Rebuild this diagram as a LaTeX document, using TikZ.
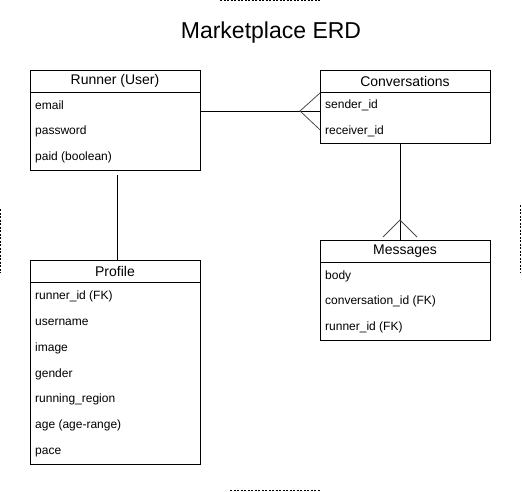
\documentclass[tikz,border=0pt]{standalone}
\usepackage{fontspec}
\setmainfont{Liberation Sans}
\begin{document}
\begin{tikzpicture}[x=1pt,y=-1pt,
  tbl/.style={draw=black,line width=0.8pt,anchor=north west,inner sep=0pt,minimum width=170pt},
  hdr/.style={font=\fontsize{14}{16}\selectfont,inner sep=0pt},
  fld/.style={font=\fontsize{12}{14}\selectfont,anchor=west,inner sep=0pt},
  sep/.style={draw=black,line width=0.8pt},
  conn/.style={draw=black,line width=0.8pt},
  crow/.style={draw=black!70,line width=0.8pt},
  pagemark/.style={draw=black,line width=1pt,dash pattern=on 2pt off 1.5pt}]
\useasboundingbox (0,0) rectangle (522,492);

% page marks
\draw[pagemark] (220,1) -- (320,1);
\draw[pagemark] (230,490) -- (320,490);
\draw[pagemark] (0.8,209) -- (0.8,273);
\draw[pagemark] (520.5,205) -- (520.5,273);

% title
\node[font=\fontsize{23}{27}\selectfont,inner sep=0pt] (title) at (271,33) {Marketplace ERD};

% Runner (User)
\node[tbl,minimum height=100pt] (runner) at (30,70) {};
\node[hdr] (runnerh) at (115,81) {Runner (User)};
\draw[sep] ([yshift=-22pt]runner.north west) -- ([yshift=-22pt]runner.north east);
\node[fld] (r1) at (35,105.5) {email};
\node[fld] (r2) at (35,131.5) {password};
\node[fld] (r3) at (35,157.5) {paid (boolean)};

% Conversations
\node[tbl,minimum height=73pt] (conv) at (320,70) {};
\node[hdr] (convh) at (405,81) {Conversations};
\draw[sep] ([yshift=-22pt]conv.north west) -- ([yshift=-22pt]conv.north east);
\node[fld] (c1) at (325,105.5) {sender\_id};
\node[fld] (c2) at (325,131.5) {receiver\_id};

% Messages
\node[tbl,minimum height=100pt] (msg) at (320,240) {};
\node[hdr] (msgh) at (405,251) {Messages};
\draw[sep] ([yshift=-22pt]msg.north west) -- ([yshift=-22pt]msg.north east);
\node[fld] (m1) at (325,276.5) {body};
\node[fld] (m2) at (325,301.5) {conversation\_id (FK)};
\node[fld] (m3) at (325,327.5) {runner\_id (FK)};

% Profile
\node[tbl,minimum height=204pt] (prof) at (30,260) {};
\node[hdr] (profh) at (115,271) {Profile};
\draw[sep] ([yshift=-22pt]prof.north west) -- ([yshift=-22pt]prof.north east);
\node[fld] (p1) at (35,296.5) {runner\_id (FK)};
\node[fld] (p2) at (35,322.5) {username};
\node[fld] (p3) at (35,348.5) {image};
\node[fld] (p4) at (35,374.5) {gender};
\node[fld] (p5) at (35,399.5) {running\_region};
\node[fld] (p6) at (35,425.5) {age (age-range)};
\node[fld] (p7) at (35,452.5) {pace};

% Runner -- Conversations (many)
\coordinate (cfa) at (300,111);
\draw[conn] (runner.east |- cfa) -- (conv.west |- cfa);
\draw[crow] ([yshift=-23pt]conv.north west) -- (cfa) -- ([yshift=14pt]conv.south west);

% Conversations -- Messages (many)
\coordinate (cfb) at (400,220);
\draw[conn] (conv.south -| cfb) -- (msg.north -| cfb);
\draw[crow] ([xshift=-17pt,yshift=3pt]msg.north -| cfb) -- (cfb) -- ([xshift=17pt,yshift=3pt]msg.north -| cfb);

% Runner -- Profile
\coordinate (rp) at (117,175);
\draw[conn] (rp) -- (prof.north -| rp);
\end{tikzpicture}
\end{document}
